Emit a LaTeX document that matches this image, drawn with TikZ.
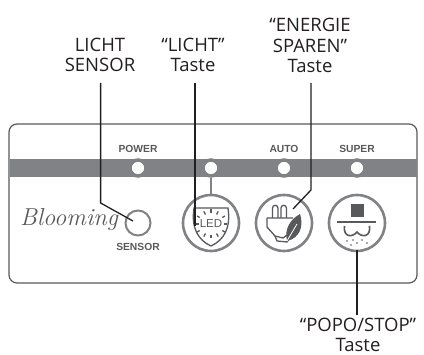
\documentclass[tikz,border=0pt]{standalone}
\usepackage{fontspec}
\setsansfont{Open Sans}
\newfontfamily\labelfont{Liberation Sans}
\usetikzlibrary{positioning,calc}
\definecolor{bandgray}{HTML}{808285}
\definecolor{darkgray}{HTML}{58595B}
\definecolor{leadblack}{HTML}{231F20}

\begin{document}
\begin{tikzpicture}[
    x=1pt, y=-1pt,
    callout/.style={font=\sffamily\fontsize{18.5}{20.5}\selectfont, align=center, text=leadblack, inner sep=0pt},
    panellabel/.style={font=\labelfont\bfseries\fontsize{10.3}{12}\selectfont, text=darkgray, inner sep=0pt},
    lamp/.style={circle, draw=bandgray, line width=3.5pt, fill=white, minimum size=16pt, inner sep=0pt},
    btn/.style={circle, draw=bandgray, line width=2.6pt, fill=white, minimum size=56pt, inner sep=0pt},
    leader/.style={draw=leadblack, line width=1.3pt},
    icon/.style={draw=darkgray, line width=1.3pt}
]
\useasboundingbox (0,0) rectangle (424,355);

% panel and band
\node[draw=darkgray, line width=1.2pt, rounded corners=8pt, minimum width=408pt, minimum height=159pt, inner sep=0pt] (panel) at (213,203.5) {};
\fill[bandgray] (9.5,159) rectangle (416.5,177.5);

% lamps
\node[lamp] (power) at (138,168) {};
\node[lamp] (ledlamp) at (211,168) {};
\node[lamp] (auto) at (284,168) {};
\node[lamp] (super) at (357,168) {};
\node[panellabel] (powertxt) at (138,149) {POWER};
\node[panellabel] (autotxt) at (284,149) {AUTO};
\node[panellabel] (supertxt) at (357,149) {SUPER};

% buttons
\draw[bandgray, line width=2.6pt] (ledlamp) -- (211,200);
\node[btn] (ledbtn) at (211,223) {};
\node[btn] (plugbtn) at (284,223) {};
\node[btn] (stopbtn) at (357,223) {};
\node[font=\itshape\fontsize{24.5}{26}\selectfont, text=darkgray, inner sep=0pt] (brand) at (69,220) {Blooming};
\node[circle, draw=bandgray, line width=2pt, minimum size=25pt, inner sep=0pt] (sensor) at (138,223) {};
\node[panellabel] (sensortxt) at (138,247) {SENSOR};

% LED icon
\draw[icon] (194,208) -- (228,208) .. controls (231,228) and (224,240) .. (211,246) .. controls (198,240) and (191,228) .. (194,208) -- cycle;
\node[font=\labelfont\fontsize{11.5}{12}\selectfont, text=darkgray, inner sep=0pt] (ledtxt) at (211,224) {LED};
\foreach \a in {0,180} \draw[darkgray, line width=1.3pt] ($(ledtxt)+(\a:12.5)$) -- ($(ledtxt)+(\a:15.5)$);
\foreach \a in {30,150,210,330} \draw[darkgray, line width=1.3pt] ($(ledtxt)+(\a:13)$) -- ($(ledtxt)+(\a:16)$);
\foreach \a in {60,90,120,240,270,300} \draw[darkgray, line width=1.3pt] ($(ledtxt)+(\a:11)$) -- ($(ledtxt)+(\a:14.5)$);

% plug icon
\draw[icon] (272.5,218) -- (272.5,208) arc[start angle=180, end angle=360, radius=2.7] -- (277.9,218);
\draw[icon] (281,218) -- (281,208) arc[start angle=180, end angle=360, radius=2.7] -- (286.4,218);
\draw[icon] (267,218) -- (293,218) (267,218) -- (267,227) -- (275,236) -- (283,238) -- (290,233);
\draw[icon] (275,236) -- (277,241) -- (287,242) -- (290,238);
\fill[darkgray] (287,241) .. controls (284,228) and (291,219) .. (300,214) .. controls (304,226) and (300,238) .. (287,241) -- cycle;
\draw[white, line width=.8pt] (287,241) -- (297,224);

% stop icon
\fill[darkgray] (350.5,204) rectangle (363.5,217);
\draw[icon] (337,222) -- (376,222);
\draw[icon, line width=1.6pt] (344.5,226) .. controls (343,237) and (352,238) .. (357,232) .. controls (362,238) and (371,237) .. (369.5,226);
\foreach \x/\y in {347/241,353/240,357/243,362/240,367/243,351/245} \fill[darkgray] (\x,\y) circle (.8);

% callouts
\node[callout] (sensorcall) at (100,55) {LICHT\\SENSOR};
\node[callout] (lichtcall) at (193,55) {“LICHT”\\Taste};
\node[callout] (energycall) at (310,45.5) {“ENERGIE\\SPAREN”\\Taste};
\node[callout] (popocall) at (358,335) {“POPO/STOP”\\Taste};

\coordinate (sensortop) at (100.6,83);
\coordinate (lichttop) at (195,83);
\coordinate (energytop) at (311,83);
\coordinate (sensorend) at (133,221);
\coordinate (lichtend) at (195,226);
\coordinate (energyend) at (293,209);
\coordinate (popoend) at (357,250);
\coordinate (popotop) at (357,315);
\draw[leader] (sensortop) -- (100.6,203) -- (sensorend);
\draw[leader] (lichttop) -- (lichtend);
\draw[leader] (energytop) -- (311,190) -- (energyend);
\draw[leader] (popoend) -- (popotop);

\end{tikzpicture}
\end{document}
